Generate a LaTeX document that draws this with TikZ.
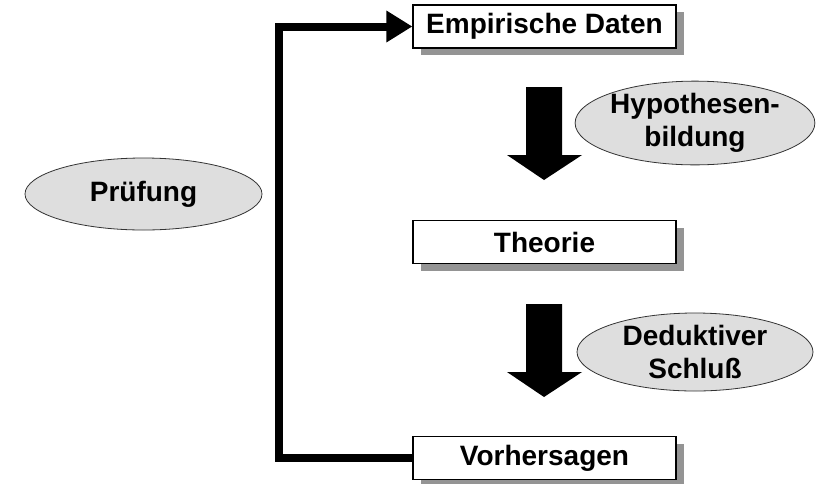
\documentclass[tikz,border=0pt]{standalone}
\usepackage{fontspec}
\setmainfont{Liberation Sans}
\usetikzlibrary{shapes.geometric,arrows.meta,shadows}
\begin{document}
\begin{tikzpicture}[x=1pt,y=-1pt,
  every node/.style={font=\fontsize{28}{33}\selectfont\bfseries},
  stepbox/.style={draw=black,line width=1.2pt,fill=white,minimum width=263pt,minimum height=43pt,inner sep=0pt,
    drop shadow={shadow xshift=8pt,shadow yshift=-7pt,fill=black!42,opacity=1}},
  oval/.style={ellipse,draw=black!80,line width=0.8pt,fill=black!13,inner sep=0pt,align=center},
  bigarrow/.style={fill=black},
  link/.style={line width=8pt,line join=miter}]
\useasboundingbox (0,0) rectangle (822,483);
\node[stepbox] (emp) at (544.5,26.5) {Empirische Daten};
\node[stepbox] (theo) at (544.5,242) {Theorie};
\node[stepbox] (vor) at (544.5,458) {Vorhersagen};
\node[oval,minimum width=236pt,minimum height=83pt] (hyp) at (695,123) {Hypothesen-\\bildung};
\node[oval,minimum width=236pt,minimum height=78pt] (ded) at (695,352) {Deduktiver\\Schluß};
\node[oval,minimum width=237pt,minimum height=72pt] (pruef) at (143.5,194) {Prüfung};
\fill[bigarrow] (526,87) -- (562,87) -- (562,155) -- (582,155) -- (544,180) -- (507,155) -- (526,155) -- cycle;
\fill[bigarrow] (526,304) -- (562,304) -- (562,372) -- (582,372) -- (544,397) -- (507,372) -- (526,372) -- cycle;
\coordinate (c1) at (279,0);
\draw[link,-{Triangle[length=26pt,width=30pt]}] (vor.west) -| (c1 |- emp.west) -- (emp.west);
\end{tikzpicture}
\end{document}
